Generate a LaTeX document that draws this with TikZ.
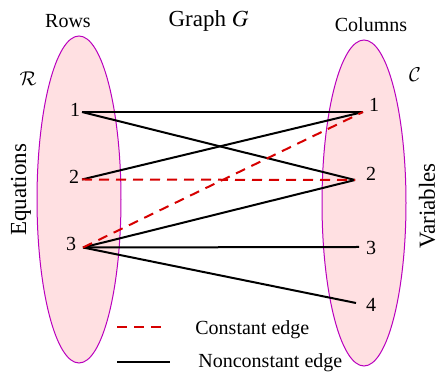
\documentclass[tikz,border=0pt]{standalone}
\usepackage{mathptmx}
\DeclareMathAlphabet{\mathcal}{OMS}{cmsy}{m}{n}
\usepackage{fontspec}
\setmainfont{Liberation Serif}
\usetikzlibrary{positioning}
\definecolor{setfill}{RGB}{255,224,226}
\definecolor{setline}{RGB}{185,0,190}
\definecolor{cConst}{RGB}{214,0,0}

\begin{document}
\begin{tikzpicture}[x=0.5pt, y=-0.5pt, font=\normalsize,
    vset/.style={fill=setfill, draw=setline, line width=0.5pt},
    nonconst/.style={black, line width=1pt},
    const/.style={cConst, line width=1pt, dash pattern=on 5pt off 3.5pt},
    num/.style={inner sep=0pt},
    txt/.style={inner sep=0pt},
    big/.style={inner sep=0pt, font=\fontsize{11.5}{13}\selectfont}]
  \useasboundingbox (0,0) rectangle (440,373);
  % the two vertex sets
  \filldraw[vset] (79,199.5) ellipse (21pt and 81.75pt);
  \filldraw[vset] (364,203) ellipse (21pt and 81.5pt);
  % titles
  \node[txt, anchor=base] (rows) at (68,28) {Rows};
  \node[big, anchor=base] (title) at (208.5,27) {Graph $G$};
  \node[txt, anchor=base] (cols) at (371,32) {Columns};
  \node[txt, anchor=base] (rset) at (28,86) {$\mathcal{R}$};
  \node[txt, anchor=base] (cset) at (415,82) {$\mathcal{C}$};
  \node[big, rotate=90] (eqs) at (21,190) {Equations};
  \node[big, rotate=90] (vars) at (427,206) {Variables};
  % row vertices
  \node[num] (l1) at (75,109.5) {1};
  \node[num] (l2) at (74,176.5) {2};
  \node[num] (l3) at (71,244) {3};
  \coordinate (l1p) at (82,112);
  \coordinate (l2p) at (82,179.5);
  \coordinate (l3p) at (83,247.5);
  % column vertices
  \node[num] (r1) at (374,105) {1};
  \node[num] (r2) at (371,173.5) {2};
  \node[num] (r3) at (371,247.5) {3};
  \node[num] (r4) at (371,304.5) {4};
  \coordinate (r1p) at (363,112);
  \coordinate (r2p) at (355,180);
  \coordinate (r3p) at (359,247);
  \coordinate (r4p) at (356,303);
  % edges
  \draw[nonconst] (l1p) -- (r1p);
  \draw[nonconst] (l1p) -- (r2p);
  \draw[nonconst] (l2p) -- (r1p);
  \draw[nonconst] (l3p) -- (r2p);
  \draw[nonconst] (l3p) -- (r3p);
  \draw[nonconst] (l3p) -- (r4p);
  \draw[const] (l2p) -- (r2p);
  \draw[const] (l3p) -- (r1p);
  % legend
  \coordinate (k1a) at (117,327);
  \coordinate (k1b) at (163,327);
  \coordinate (k2a) at (117,362);
  \coordinate (k2b) at (170,362);
  \draw[const] (k1a) -- (k1b);
  \draw[nonconst] (k2a) -- (k2b);
  \node[txt, anchor=base west] (k1) at (195,335) {Constant edge};
  \node[txt, anchor=base west] (k2) at (198,368) {Nonconstant edge};
\end{tikzpicture}
\end{document}
